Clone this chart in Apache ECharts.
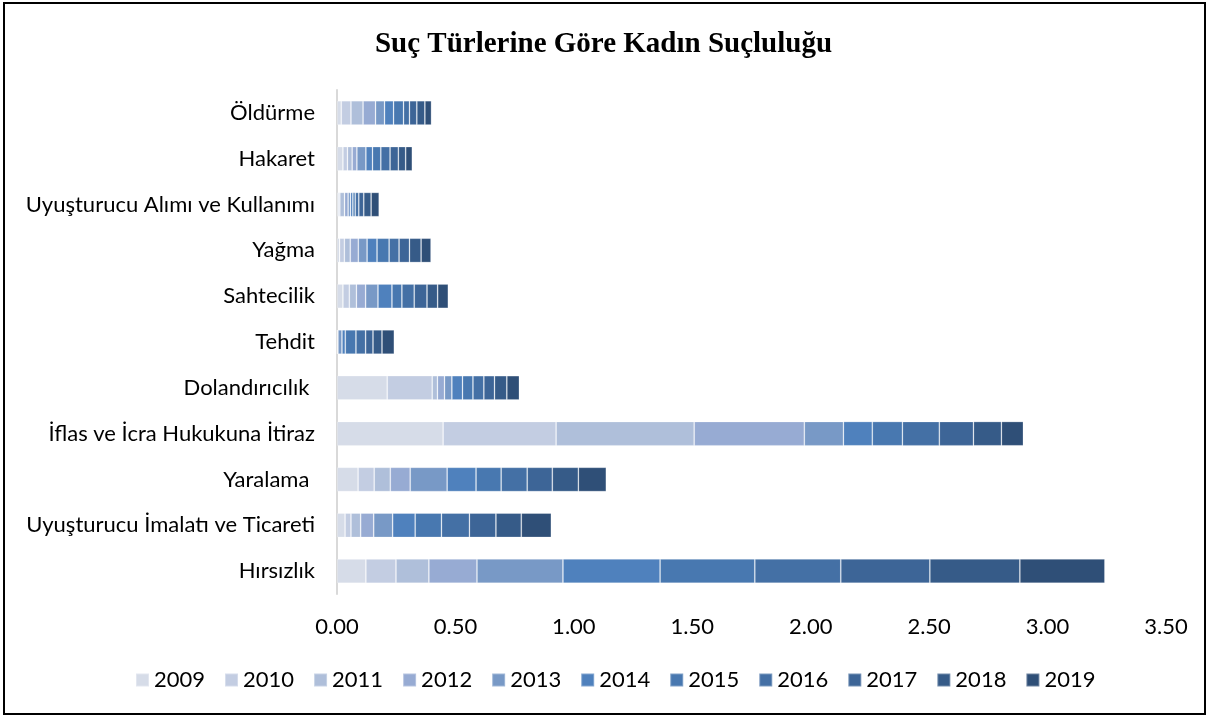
<!DOCTYPE html>
<html>
<head>
<meta charset="utf-8">
<script src="https://cdn.jsdelivr.net/npm/echarts@6/dist/echarts.min.js"></script>
<style>
  html, body { margin: 0; padding: 0; background: #fff; }
  #frame { position: absolute; left: 3px; top: 2px; width: 1199px; height: 709px; border: 2px solid #000; }
  #main { position: absolute; left: 0; top: 0; width: 1207px; height: 717px; }
</style>
</head>
<body>
<div id="frame"></div>
<div id="main"></div>
<script>
var chartDom = document.getElementById('main');
var myChart = echarts.init(chartDom);
var option;

// bottom to top
let categories = ['Hırsızlık', 'Uyuşturucu İmalatı ve Ticareti', 'Yaralama ', 'İflas ve İcra Hukukuna İtiraz',
  'Dolandırıcılık ', 'Tehdit', 'Sahtecilik', 'Yağma', 'Uyuşturucu Alımı ve Kullanımı', 'Hakaret', 'Öldürme']
let years = ['2009', '2010', '2011', '2012', '2013', '2014', '2015', '2016', '2017', '2018', '2019']
let colors = ['#D6DCE8', '#C3CDE2', '#AFBFDA', '#97ABD3', '#7899C6', '#4F81BD',
  '#4878B0', '#4470A5', '#3D6597', '#365B88', '#2F4F77']

// one array per year, same order as categories
let v2009 = [0.122, 0.034, 0.089, 0.448, 0.212, 0.001, 0.025, 0.011, 0.005, 0.025, 0.018]
let v2010 = [0.127, 0.025, 0.068, 0.477, 0.190, 0.001, 0.027, 0.020, 0.007, 0.019, 0.041]
let v2011 = [0.139, 0.041, 0.068, 0.583, 0.022, 0.001, 0.030, 0.025, 0.020, 0.020, 0.051]
let v2012 = [0.203, 0.055, 0.084, 0.465, 0.030, 0.001, 0.039, 0.034, 0.015, 0.020, 0.053]
let v2013 = [0.363, 0.080, 0.156, 0.165, 0.031, 0.017, 0.052, 0.037, 0.010, 0.038, 0.038]
let v2014 = [0.410, 0.095, 0.122, 0.122, 0.045, 0.014, 0.059, 0.042, 0.010, 0.028, 0.038]
let v2015 = [0.400, 0.111, 0.106, 0.127, 0.044, 0.045, 0.042, 0.051, 0.010, 0.035, 0.042]
let v2016 = [0.363, 0.118, 0.110, 0.156, 0.046, 0.041, 0.052, 0.042, 0.015, 0.039, 0.025]
let v2017 = [0.376, 0.112, 0.106, 0.144, 0.045, 0.031, 0.054, 0.044, 0.021, 0.035, 0.031]
let v2018 = [0.380, 0.107, 0.110, 0.118, 0.052, 0.038, 0.045, 0.049, 0.031, 0.031, 0.034]
let v2019 = [0.359, 0.127, 0.118, 0.093, 0.053, 0.052, 0.045, 0.042, 0.034, 0.028, 0.028]
let values = [v2009, v2010, v2011, v2012, v2013, v2014, v2015, v2016, v2017, v2018, v2019]

let font = 'Lato, "Open Sans", sans-serif'

let series = []
for (var i = 0; i < years.length; i++) {
  series.push({
    name: years[i],
    type: 'bar',
    stack: 'total',
    barWidth: '53%',
    data: values[i],
    itemStyle: {
      color: colors[i],
      borderColor: 'rgba(255,255,255,0.3)',
      borderWidth: 0.8
    }
  })
}

option = {
  animation: false,
  title: {
    text: 'Suç Türlerine Göre Kadın Suçluluğu',
    left: 'center',
    top: 25,
    textStyle: {
      fontFamily: '"Liberation Serif", "Times New Roman", serif',
      fontWeight: 'bold',
      fontSize: 29,
      color: '#000'
    }
  },
  color: colors,
  legend: {
    data: years,
    bottom: 21,
    left: 130,
    itemWidth: 13,
    itemHeight: 13,
    itemGap: 19,
    icon: 'rect',
    textStyle: { fontFamily: font, fontSize: 22, color: '#000' }
  },
  grid: {
    left: 337,
    right: 41,
    top: 90,
    bottom: 123,
    containLabel: false
  },
  xAxis: {
    type: 'value',
    min: 0,
    max: 3.5,
    interval: 0.5,
    splitLine: { show: false },
    axisLine: { show: false },
    axisTick: { show: false },
    axisLabel: {
      formatter: function (v) { return v.toFixed(2) },
      fontFamily: font,
      fontSize: 22,
      color: '#000',
      margin: 22
    }
  },
  yAxis: {
    type: 'category',
    data: categories,
    axisLine: { show: true, lineStyle: { color: '#d9d9d9', width: 2 } },
    axisTick: { show: false },
    axisLabel: {
      fontFamily: font,
      fontSize: 22,
      color: '#000',
      margin: 22
    }
  },
  series: series
};

option && myChart.setOption(option);
</script>
</body>
</html>
